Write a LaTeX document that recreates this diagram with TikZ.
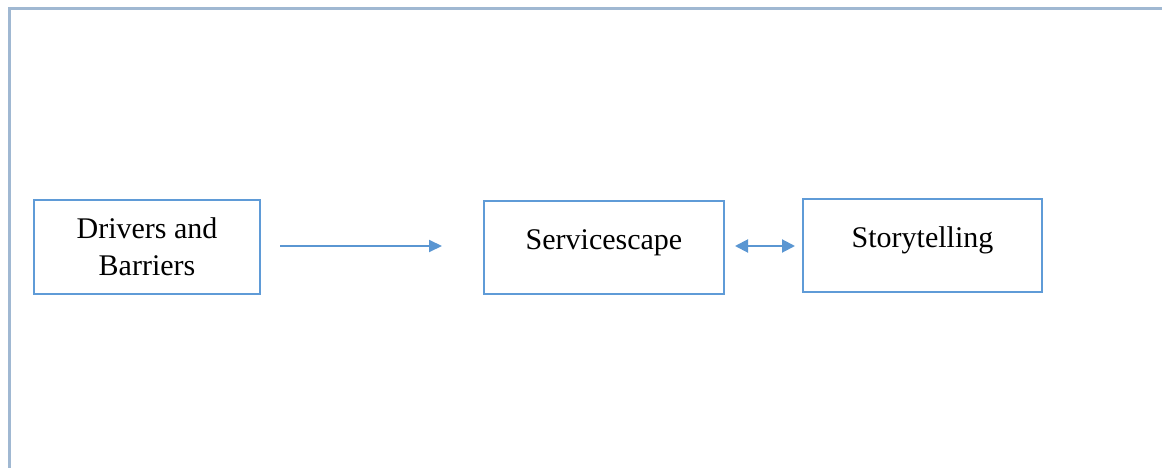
\documentclass[tikz,border=0pt]{standalone}
\usepackage{fontspec}
\setmainfont{Liberation Serif}
\usetikzlibrary{arrows.meta}
\definecolor{framecol}{RGB}{160,184,210}
\definecolor{boxcol}{RGB}{95,155,215}
\definecolor{arrcol}{RGB}{90,150,210}
\tikzset{
  stagebox/.style={draw=boxcol, line width=2pt, minimum width=#1, minimum height=94pt,
    inner sep=0pt, align=center, font=\fontsize{30}{37}\selectfont},
  flow/.style={draw=arrcol, line width=2pt, -{Triangle[length=13pt,width=12pt]}},
  bothflow/.style={draw=arrcol, line width=2pt, {Triangle[length=13pt,width=13pt]}-{Triangle[length=13pt,width=13pt]}}
}
\begin{document}
\begin{tikzpicture}[x=1pt,y=-1pt]
\useasboundingbox (0,0) rectangle (1162,468);
% outer frame, running off the right and bottom edges
\draw[framecol, line width=3pt] (9.5,470) -- (9.5,8.5) -- (1165,8.5);
\node[stagebox=226pt] (drivers) at (147,246.5) {Drivers and\\Barriers};
\node[stagebox=240pt, minimum height=93pt] (scape) at (604,247.5) {\raisebox{15pt}{Servicescape}};
\node[stagebox=239pt, minimum height=93pt] (story) at (922.5,245.5) {\raisebox{17pt}{Storytelling}};
\coordinate (a1s) at (280,246);
\coordinate (a1e) at (442,246);
\coordinate (a2s) at (735,246);
\coordinate (a2e) at (795,246);
\draw[flow] (a1s) -- (a1e);
\draw[bothflow] (a2s) -- (a2e);
\end{tikzpicture}
\end{document}
